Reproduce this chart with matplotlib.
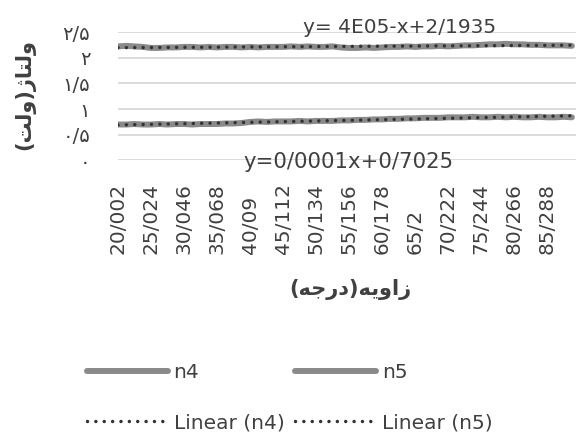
import numpy as np
import matplotlib
matplotlib.use("Agg")
import matplotlib.pyplot as plt

plt.rcParams['font.family'] = ['DejaVu Sans']

# ---- data ----
angle_labels = ["20/002", "25/024", "30/046", "35/068", "40/09", "45/112", "50/134",
                "55/156", "60/178", "65/2", "70/222", "75/244", "80/266", "85/288"]

n4 = [0.70, 0.70, 0.71, 0.70, 0.70, 0.71, 0.70, 0.71, 0.71, 0.70, 0.71, 0.71,
      0.71, 0.72, 0.72, 0.73,
      0.75, 0.76, 0.75, 0.76, 0.76, 0.76, 0.77, 0.76, 0.77, 0.77, 0.77,
      0.78, 0.78, 0.79, 0.79, 0.80, 0.80, 0.81, 0.81, 0.82, 0.82, 0.83, 0.83, 0.83, 0.84,
      0.84, 0.84, 0.85, 0.84, 0.84, 0.85, 0.84, 0.85, 0.84, 0.84, 0.85, 0.84, 0.84, 0.85, 0.84]

n5 = [2.22, 2.23, 2.22, 2.21,
      2.19, 2.19, 2.20, 2.20, 2.21,
      2.21, 2.20, 2.21, 2.20, 2.21, 2.21, 2.20, 2.21, 2.20, 2.21,
      2.21, 2.21, 2.22, 2.21, 2.22, 2.21, 2.21, 2.22,
      2.20, 2.19, 2.19, 2.20, 2.19, 2.20, 2.21, 2.21, 2.22, 2.21,
      2.22, 2.22, 2.23, 2.22, 2.23, 2.24, 2.24, 2.25,
      2.26, 2.26, 2.27, 2.26, 2.26, 2.25,
      2.25, 2.24, 2.24, 2.24, 2.23]

y_ticks = [0, 0.5, 1, 1.5, 2, 2.5]
y_tick_labels = ["\u06f0", "\u06f0/\u06f5", "\u06f1", "\u06f1/\u06f5", "\u06f2", "\u06f2/\u06f5"]

eq_n5 = "y= 4E05-x+2/1935"
eq_n4 = "y=0/0001x+0/7025"

# Persian labels in shaped (presentation) forms, visual order
x_label = "(\ufeea\ufe9f\ufead\ufea9)\ufeea\ufbfe\ufeed\ufe8d\ufeaf"   # زاویه(درجه)
y_label = "(\ufe96\ufedf\ufeed)\ufb8a\ufe8e\ufe98\ufedf\ufeed"         # ولتاژ(ولت)

# ---- figure ----
fig = plt.figure(figsize=(5.76, 4.36), dpi=100)
ax = fig.add_axes([118/576, 1-160.5/436, 458/576, 128.5/436])

x = np.arange(len(n4))
line_col = '#8a8a8a'
trend_col = '#333333'

l4, = ax.plot(x, n4, color=line_col, lw=4.3, solid_capstyle='round', zorder=2, label='n4')
l5, = ax.plot(x, n5, color=line_col, lw=4.3, solid_capstyle='round', zorder=2, label='n5')

c4 = np.polyfit(x, n4, 1)
c5 = np.polyfit(x, n5, 1)
t4, = ax.plot(x, np.polyval(c4, x), color=trend_col, lw=2.5, ls=(0, (0.01, 2.4)),
              dash_capstyle='round', zorder=3, label='Linear (n4)')
t5, = ax.plot(x, np.polyval(c5, x), color=trend_col, lw=2.5, ls=(0, (0.01, 2.4)),
              dash_capstyle='round', zorder=3, label='Linear (n5)')

ax.set_xlim(0, 55.5)
ax.set_ylim(0, 2.5)
ax.set_yticks(y_ticks)
ax.set_yticklabels(y_tick_labels, fontsize=14, color='#404040')
ax.tick_params(axis='y', length=0, pad=20)
ax.yaxis.grid(True, color='#d9d9d9', lw=1.3, zorder=0)
ax.set_axisbelow(True)
for s in ax.spines.values():
    s.set_visible(False)

tick_pos = np.arange(0, len(n4), 4)[:len(angle_labels)]
ax.set_xticks(tick_pos)
ax.set_xticklabels(angle_labels, rotation=90, fontsize=14.5, color='#404040')
for lab in ax.get_xticklabels():
    lab.set_va('bottom')
ax.tick_params(axis='x', length=0, pad=67)

ax.text(22.4, 2.58, eq_n5, fontsize=14.5, color='#404040', ha='left', va='center', clip_on=False)
ax.text(15.2, -0.03, eq_n4, fontsize=15.3, color='#404040', ha='left', va='center', clip_on=False)

fig.text(350/576, 1-290/436, x_label, fontsize=15, fontweight='bold', color='#404040',
         ha='center', va='center')
fig.text(25/576, 1-95/436, y_label, fontsize=15, fontweight='bold', color='#404040',
         ha='center', va='center', rotation=90)

leg = fig.legend(handles=[l4, t4, l5, t5], loc='upper left',
                 bbox_to_anchor=(87/576, 1-363/436), ncol=2, frameon=False,
                 fontsize=14.5, handlelength=4.0, handletextpad=0.3,
                 labelspacing=1.55, columnspacing=0.55, borderpad=0, borderaxespad=0)
for t in leg.get_texts():
    t.set_color('#404040')

fig.savefig('out.png', dpi=100)
